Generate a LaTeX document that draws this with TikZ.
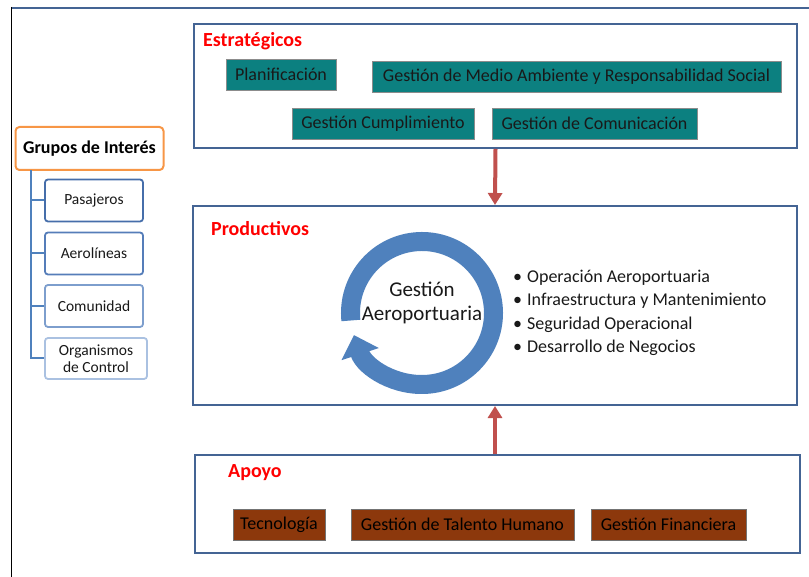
\documentclass[tikz,border=0pt]{standalone}
\usepackage{fontspec}
\setmainfont{Carlito}
\usetikzlibrary{arrows.meta,calc}
\definecolor{frameblue}{RGB}{68,100,148}
\definecolor{tealfill}{RGB}{12,128,128}
\definecolor{brownfill}{RGB}{140,56,12}
\definecolor{ringblue}{RGB}{79,129,189}
\definecolor{arrred}{RGB}{192,80,77}
\definecolor{orangeb}{RGB}{247,150,70}
\definecolor{treeblue}{RGB}{79,129,189}
\definecolor{txt}{RGB}{25,25,25}
\tikzset{
  groupbox/.style={draw=frameblue, line width=2pt, fill=white, inner sep=0pt},
  tealbox/.style={draw=black!45, line width=0.6pt, fill=tealfill, text=txt, inner sep=0pt,
     font=\fontsize{18}{21}\selectfont},
  brownbox/.style={draw=black!55, line width=0.6pt, fill=brownfill, text=black, inner sep=0pt,
     font=\fontsize{18}{21}\selectfont},
  grouptitle/.style={text=red, font=\bfseries\fontsize{20}{23}\selectfont, anchor=west, inner sep=0pt},
  bigarrow/.style={draw=arrred, line width=4pt, -{Triangle[width=14pt,length=12pt]}},
  leafbox/.style={rounded corners=3pt, line width=1.8pt, fill=white, text=txt, inner sep=0pt,
     align=center, font=\fontsize{15.5}{17}\selectfont},
  treeline/.style={draw=treeblue, line width=2pt},
  bullettext/.style={anchor=west, text=txt, inner sep=0pt, font=\fontsize{18}{21}\selectfont},
}
\begin{document}
\begin{tikzpicture}[x=1pt,y=-1pt]
\useasboundingbox (0,0) rectangle (809,577);
% outer frame
\draw[frameblue, line width=2pt] (11,8) -- (809,8);
\draw[black, line width=1pt] (11,7) -- (11,577);

% group boxes
\node[groupbox, minimum width=603pt, minimum height=124pt] (estr) at (495.5,86) {};
\node[groupbox, minimum width=604pt, minimum height=199pt] (prod) at (495,305.5) {};
\node[groupbox, minimum width=605pt, minimum height=98pt] (apoyo) at (497.5,504) {};

\node[grouptitle] (testr) at (203,41) {Estratégicos};
\node[grouptitle] (tprod) at (211,229) {Productivos};
\node[grouptitle] (tapoyo) at (228,473) {Apoyo};

% strategic boxes
\node[tealbox, minimum width=110pt, minimum height=31pt] (plan) at (281,74.5) {Planificación};
\node[tealbox, minimum width=409pt, minimum height=31pt] (medio) at (576.5,76.5) {Gestión de Medio Ambiente y Responsabilidad Social};
\node[tealbox, minimum width=182pt, minimum height=31pt] (cump) at (383,123.5) {Gestión Cumplimiento};
\node[tealbox, minimum width=205pt, minimum height=31pt] (comu) at (594.5,123.5) {Gestión de Comunicación};

% support boxes
\node[brownbox, minimum width=92pt, minimum height=31pt] (tec) at (279,524.5) {Tecnología};
\node[brownbox, minimum width=223pt, minimum height=31pt] (tal) at (462.5,524.5) {Gestión de Talento Humano};
\node[brownbox, minimum width=155pt, minimum height=31pt] (fin) at (668.5,524.5) {Gestión Financiera};

% arrows between groups
\draw[bigarrow] (estr.south) -- (prod.north);
\draw[bigarrow] (apoyo.north -| prod.south) -- (prod.south);

% ring
\coordinate (rc) at (422,313);
\draw[ringblue, line width=19pt, -{Triangle[width=38pt,length=20pt]}]
  (rc) ++(-186:71.5) arc[start angle=-186, end angle=162, radius=71.5];
\node[text=txt, align=center, inner sep=0pt, font=\fontsize{21}{24}\selectfont] (ga) at (422,303) {Gestión\\Aeroportuaria};

% bullet list
\node[bullettext] (b1) at (513,278) {\textbullet\hspace{5pt}Operación Aeroportuaria};
\node[bullettext] (b2) at (513,301) {\textbullet\hspace{5pt}Infraestructura y Mantenimiento};
\node[bullettext] (b3) at (513,324.5) {\textbullet\hspace{5pt}Seguridad Operacional};
\node[bullettext] (b4) at (513,347.5) {\textbullet\hspace{5pt}Desarrollo de Negocios};

% stakeholders tree
\node[draw=orangeb, rounded corners=4pt, line width=2pt, fill=white, text=black,
      minimum width=148pt, minimum height=43pt, inner sep=0pt,
      font=\bfseries\fontsize{18}{21}\selectfont] (grupos) at (89.5,148.5) {Grupos de Interés};
\node[leafbox, draw={rgb,255:red,70;green,110;blue,170}, minimum width=98pt, minimum height=42pt] (pas) at (94,200.5) {Pasajeros};
\node[leafbox, draw={rgb,255:red,85;green,125;blue,185}, minimum width=98pt, minimum height=42pt] (aer) at (94,253.5) {Aerolíneas};
\node[leafbox, draw={rgb,255:red,125;green,158;blue,205}, minimum width=98pt, minimum height=42pt] (com) at (94,306) {Comunidad};
\node[leafbox, draw={rgb,255:red,170;green,193;blue,225}, minimum width=102pt, minimum height=41pt] (org) at (96,358.5) {Organismos\\de Control};

\coordinate (treetop) at (31,170);
\draw[treeline] (treetop) |- (org.west);
\draw[treeline] (treetop |- pas.west) -- (pas.west);
\draw[treeline] (treetop |- aer.west) -- (aer.west);
\draw[treeline] (treetop |- com.west) -- (com.west);
\end{tikzpicture}
\end{document}
